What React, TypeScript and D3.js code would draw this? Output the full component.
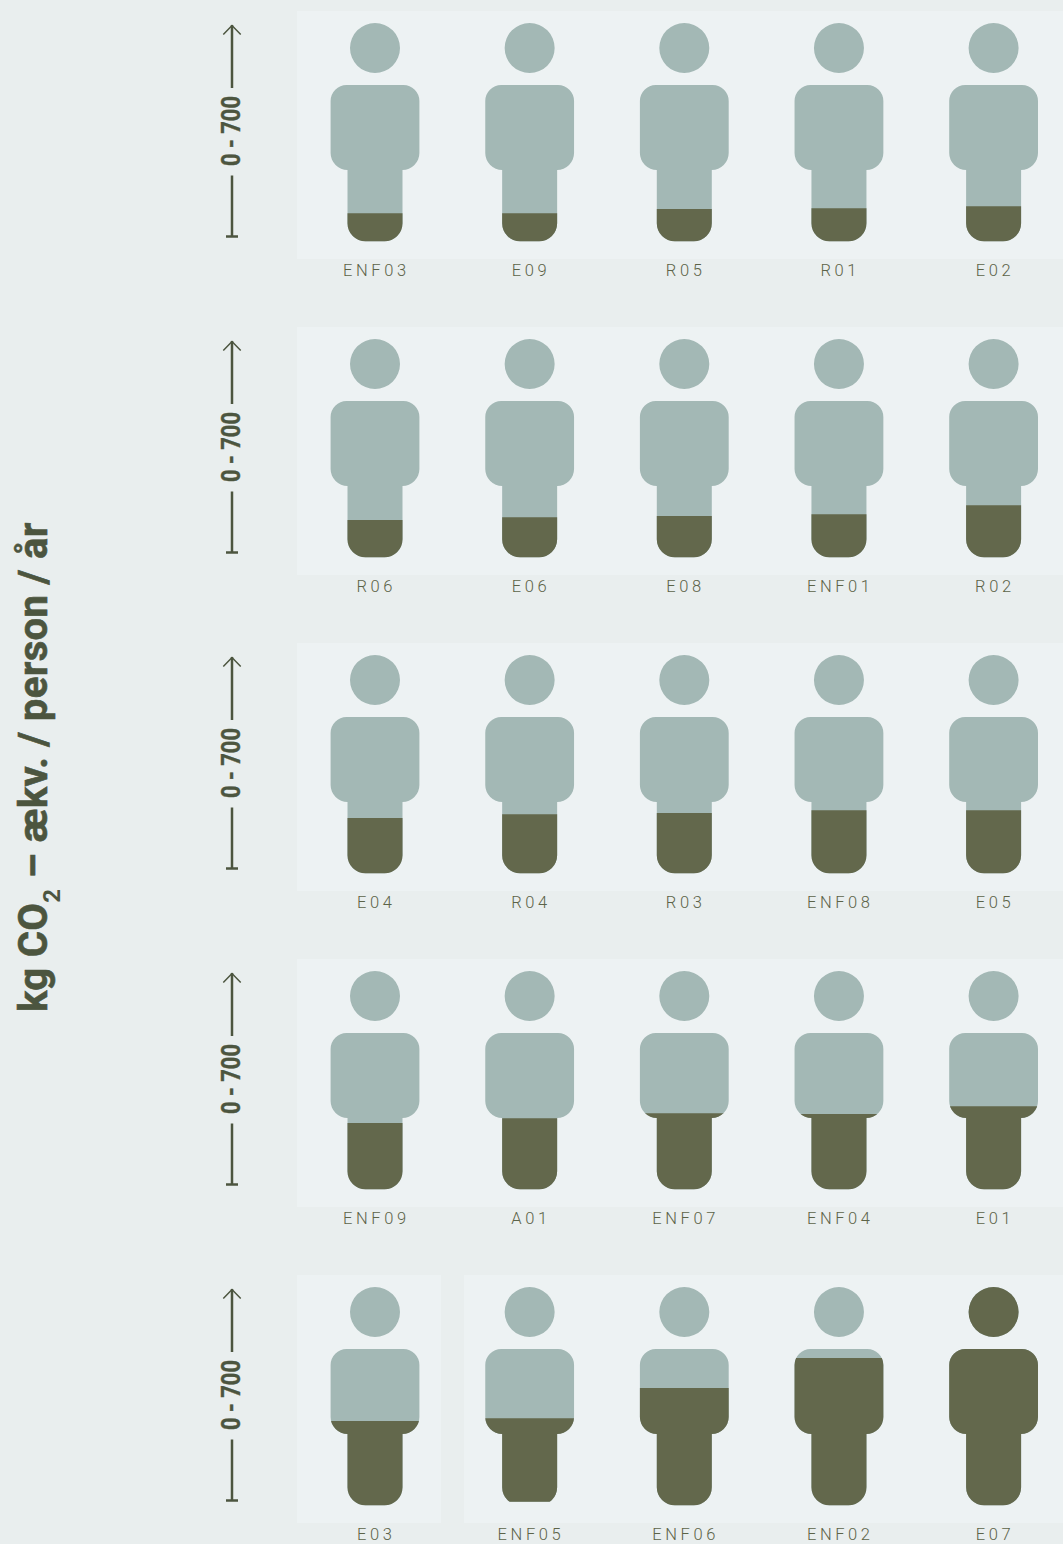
import React from "react";
import * as d3 from "d3";

const row1Names = ["ENF03", "E09", "R05", "R01", "E02"];
const row1Values = [90, 90, 103, 106, 112];
const row2Names = ["R06", "E06", "E08", "ENF01", "R02"];
const row2Values = [119, 128, 132, 138, 167];
const row3Names = ["E04", "R04", "R03", "ENF08", "E05"];
const row3Values = [177, 189, 193, 202, 202];
const row4Names = ["ENF09", "A01", "ENF07", "ENF04", "E01"];
const row4Values = [212, 228, 244, 241, 266];
const row5Names = ["E03", "ENF05", "ENF06", "ENF02", "E07"];
const row5Values = [270, 279, 376, 472, 700];
const rowNames = [row1Names, row2Names, row3Names, row4Names, row5Names];
const rowValues = [row1Values, row2Values, row3Values, row4Values, row5Values];
const croppedFigures = ["ENF05"];
const rangeLabel = "0 - 700";

const W = 1063, H = 1544;
const BG = "#e9eeee", PANEL = "#edf2f3", LIGHT = "#a3b8b5", DARK = "#63684c", INK = "#4c553f", LABEL = "#5c6348";
const FONT = "Roboto, 'Noto Sans', sans-serif";

const colX = d3.scalePoint<number>().domain([0, 1, 2, 3, 4]).range([375, 993.6]);
const rowY = d3.scalePoint<number>().domain([0, 1, 2, 3, 4]).range([0, 1264]);
const fillY = d3.scaleLinear().domain([0, 700]).range([241.2, 23]);

function personPath() {
  const p = d3.path();
  const top = 85, tw = 44.4, tb = 170, lw = 27.5, bot = 241.3, r1 = 16, r2 = 17, r3 = 18;
  p.moveTo(-tw + r1, top);
  p.lineTo(tw - r1, top);
  p.arcTo(tw, top, tw, top + r1, r1);
  p.lineTo(tw, tb - r2);
  p.arcTo(tw, tb, tw - r2, tb, r2);
  p.lineTo(lw, tb);
  p.lineTo(lw, bot - r3);
  p.arcTo(lw, bot, lw - r3, bot, r3);
  p.lineTo(-lw + r3, bot);
  p.arcTo(-lw, bot, -lw, bot - r3, r3);
  p.lineTo(-lw, tb);
  p.lineTo(-tw + r2, tb);
  p.arcTo(-tw, tb, -tw, tb - r2, r2);
  p.lineTo(-tw, top + r1);
  p.arcTo(-tw, top, -tw + r1, top, r1);
  p.closePath();
  p.moveTo(25, 48);
  p.arc(0, 48, 25, 0, Math.PI * 2);
  p.closePath();
  return p.toString();
}
const PERSON = personPath();

function Person({ name, value, id }: { name: string; value: number; id: string }) {
  const y = fillY(value);
  const cropped = croppedFigures.includes(name);
  return (
    <g>
      <clipPath id={id}>
        <rect x={-60} y={y} width={120} height={242 - y} />
      </clipPath>
      <clipPath id={id + "c"}>
        <rect x={-60} y={0} width={120} height={cropped ? 237.8 : 250} />
      </clipPath>
      <g clipPath={`url(#${id}c)`}>
        <path d={PERSON} fill={LIGHT} />
        <path d={PERSON} fill={DARK} clipPath={`url(#${id})`} />
      </g>
      <text x={1.3} y={276} textAnchor="middle" fontFamily={FONT} fontSize={16.5} fontWeight={300}
        letterSpacing={3.6} fill={LABEL}>{name}</text>
    </g>
  );
}

function RangeAxis() {
  return (
    <g stroke={INK} fill="none">
      <line x1={232} x2={232} y1={25} y2={88} strokeWidth={2.5} />
      <line x1={232} x2={232} y1={175.5} y2={237} strokeWidth={2.5} />
      <line x1={226} x2={238} y1={236.5} y2={236.5} strokeWidth={2.5} />
      <path d="M223.3,34.5L232,25.5L240.7,34.5" strokeWidth={1.5} />
      <text transform="translate(240,166) rotate(-90)" x={0} y={0} fill={INK} stroke={INK} strokeWidth={0.4}
        fontFamily={FONT} fontWeight={700} fontSize={25} textLength={70} lengthAdjust="spacingAndGlyphs">{rangeLabel}</text>
    </g>
  );
}

export default function App() {
  return (
    <svg width={W} height={H} viewBox={`0 0 ${W} ${H}`} style={{ position: "absolute", left: 0, top: 0, display: "block" }}>
      <rect width={W} height={H} fill={BG} />
      {rowNames.map((names, r) => (
        <g key={r} transform={`translate(0,${rowY(r)})`}>
          {r < 4 ? (
            <rect x={297} y={11} width={766} height={248} fill={PANEL} />
          ) : (
            <>
              <rect x={297} y={11} width={144} height={248} fill={PANEL} />
              <rect x={464} y={11} width={599} height={248} fill={PANEL} />
            </>
          )}
          <RangeAxis />
          {names.map((n, c) => (
            <g key={n} transform={`translate(${colX(c)},0)`}>
              <Person name={n} value={rowValues[r][c]} id={`clip-${n}`} />
            </g>
          ))}
        </g>
      ))}
      <text transform="translate(47,1012) rotate(-90)" fontFamily={FONT} fontWeight={700} fontSize={40} fill={INK}
        stroke={INK} strokeWidth={0.6} letterSpacing={0.35}>
        kg CO<tspan fontSize={24} dy={13} strokeWidth={0}>2</tspan><tspan dy={-13}> – ækv. / person / år</tspan>
      </text>
    </svg>
  );
}
